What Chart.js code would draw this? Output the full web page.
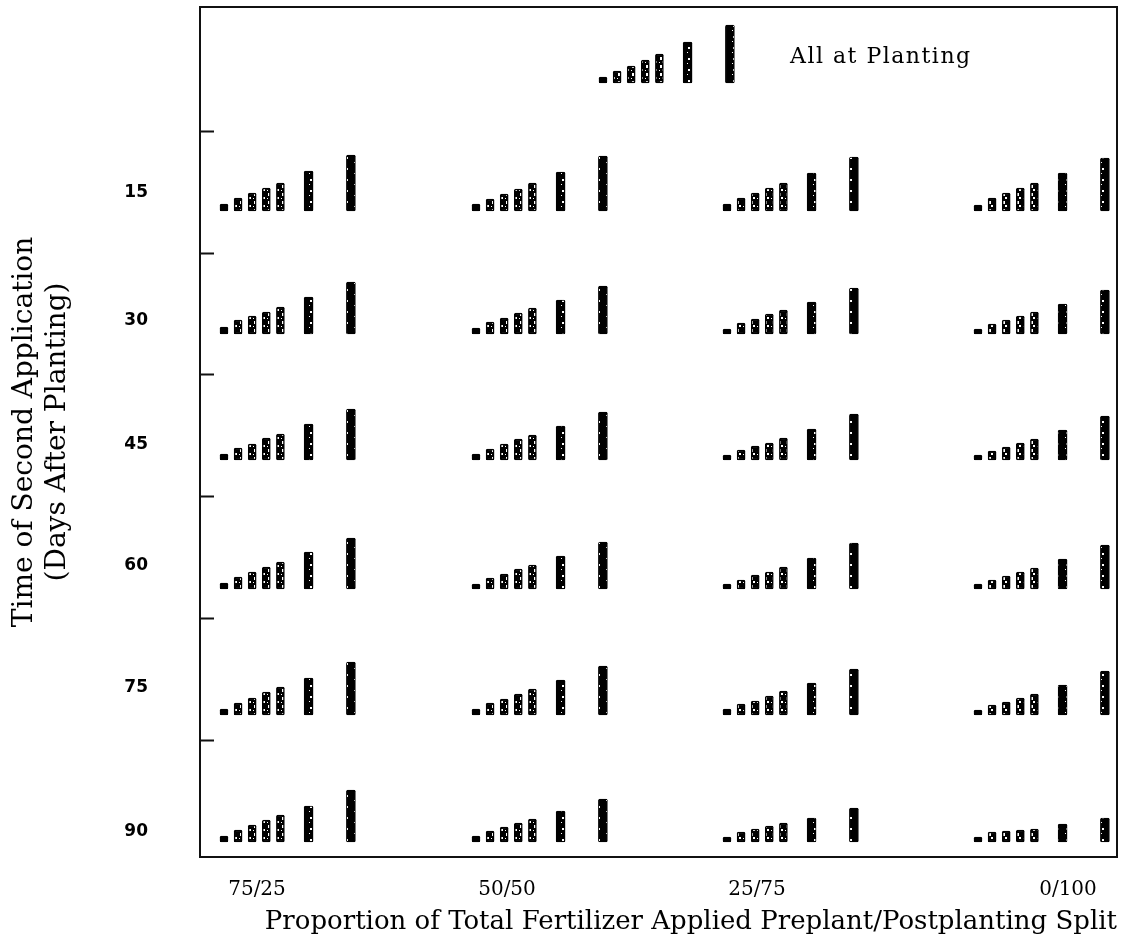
<!DOCTYPE html>
<html lang="en">
<head>
    <meta charset="UTF-8">
    <title>Time of Second Application</title>
    <script src="https://cdn.jsdelivr.net/npm/chart.js"></script>
    <style>
        body { margin: 0; background: #fff; }
    </style>
</head>
<body>
    <canvas id="myChart" width="1139" height="945"></canvas>

    <script>
        // categories
        const splits = ["75/25", "50/50", "25/75", "0/100"];
        const days = ["15", "30", "45", "60", "75", "90"];

        // bar heights, 7 samplings per cluster, one list per split
        const allAtPlanting = [6, 12, 17, 23, 29, 41, 58];
        const day15 = [[7, 13, 18, 23, 28, 40, 56], [7, 12, 17, 22, 28, 39, 55], [7, 13, 18, 23, 28, 38, 54], [6, 13, 18, 23, 28, 38, 53]];
        const day30 = [[7, 14, 18, 22, 27, 37, 52], [6, 12, 16, 21, 26, 34, 48], [5, 11, 15, 20, 24, 32, 46], [5, 10, 14, 18, 22, 30, 44]];
        const day45 = [[6, 12, 16, 22, 26, 36, 51], [6, 11, 16, 21, 25, 34, 48], [5, 10, 14, 17, 22, 31, 46], [5, 9, 13, 17, 21, 30, 44]];
        const day60 = [[6, 12, 17, 22, 27, 37, 51], [5, 11, 15, 20, 24, 33, 47], [5, 9, 14, 17, 22, 31, 46], [5, 9, 13, 17, 21, 30, 44]];
        const day75 = [[6, 12, 17, 23, 28, 37, 53], [6, 12, 16, 21, 26, 35, 49], [6, 11, 14, 19, 24, 32, 46], [5, 10, 13, 17, 21, 30, 44]];
        const day90 = [[6, 12, 17, 22, 27, 36, 52], [6, 11, 15, 19, 23, 31, 43], [5, 10, 13, 16, 19, 24, 34], [5, 10, 11, 12, 13, 18, 24]];
        const rows = [day15, day30, day45, day60, day75, day90];

        // layout (chart units, 1 unit ~ 1 px)
        const colStart = [24, 276, 527, 778];
        const topStart = 403;
        const sampleStep = [0, 1, 2, 3, 4, 6, 9];
        const stepWidth = 14.1;
        const rowBase = [646, 523, 397, 268, 142, 15];
        const topBase = 774;
        const rowEdges = [726, 604, 483, 361, 239, 117];
        const dayLabelY = [664, 536, 412, 291, 169, 25];
        const splitLabelX = [57, 307, 557, 868];

        function makePattern(w, h, bg, fg, spots) {
            const c = document.createElement("canvas");
            c.width = w;
            c.height = h;
            const g = c.getContext("2d");
            g.fillStyle = bg;
            g.fillRect(0, 0, w, h);
            g.fillStyle = fg;
            spots.forEach(s => g.fillRect(s[0], s[1], s[2], s[3]));
            return g.createPattern(c, "repeat");
        }

        const darkFill = makePattern(9, 11, "#000", "#fff", [[4, 3, 2, 2], [3, 8, 1, 1]]);
        const midFill = makePattern(7, 8, "#000", "#fff", [[2, 1, 2, 3], [4, 5, 2, 2], [1, 6, 1, 1]]);

        const datasets = sampleStep.map((step, k) => {
            const data = [];
            data.push({ x: topStart + step * stepWidth, y: [topBase, topBase + allAtPlanting[k]] });
            rows.forEach((row, r) => {
                row.forEach((vals, c) => {
                    data.push({ x: colStart[c] + step * stepWidth, y: [rowBase[r], rowBase[r] + vals[k]] });
                });
            });
            const mid = k >= 1 && k <= 4;
            return {
                label: "sample " + (k + 1),
                data: data,
                grouped: false,
                backgroundColor: k === 0 ? "#000" : (mid ? midFill : darkFill),
                borderColor: "#000",
                borderWidth: mid ? 1.5 : 1,
                borderSkipped: false,
                borderRadius: 1.5,
                barThickness: k >= 5 ? 9 : 8
            };
        });

        const framePlugin = {
            id: "frame",
            afterDraw(chart) {
                const ctx = chart.ctx;
                const a = chart.chartArea;
                const y = chart.scales.y;
                const x = chart.scales.x;
                ctx.save();
                ctx.strokeStyle = "#111";
                ctx.lineWidth = 2;
                ctx.strokeRect(a.left, a.top, a.right - a.left, a.bottom - a.top);
                ctx.beginPath();
                rowEdges.forEach(v => {
                    const py = Math.round(y.getPixelForValue(v)) + 0.5;
                    ctx.moveTo(a.left, py);
                    ctx.lineTo(a.left + 14, py);
                });
                ctx.stroke();
                ctx.fillStyle = "#000";
                ctx.font = "22px 'DejaVu Serif'";
                ctx.letterSpacing = "1.5px";
                ctx.textBaseline = "middle";
                ctx.fillText("All at Planting", x.getPixelForValue(590), y.getPixelForValue(800));
                ctx.restore();
            }
        };

        new Chart(document.getElementById("myChart"), {
            type: "bar",
            data: { datasets: datasets },
            options: {
                responsive: false,
                animation: false,
                layout: { padding: { top: 7, right: 22, left: 0, bottom: 0 } },
                plugins: {
                    legend: { display: false },
                    tooltip: { enabled: false }
                },
                scales: {
                    x: {
                        type: "linear",
                        offset: false,
                        min: 0,
                        max: 917,
                        grid: { display: false },
                        border: { display: false },
                        afterBuildTicks: s => { s.ticks = splitLabelX.map(v => ({ value: v })); },
                        afterFit: s => { s.height = 88; s.paddingLeft = 0; s.paddingRight = 0; },
                        ticks: {
                            autoSkip: false,
                            maxRotation: 0,
                            padding: 13,
                            color: "#000",
                            font: { family: "'DejaVu Serif'", size: 20 },
                            callback: (v, i) => splits[i]
                        },
                        title: {
                            display: true,
                            text: "Proportion of Total Fertilizer Applied Preplant/Postplanting Split",
                            align: "end",
                            color: "#000",
                            font: { family: "'DejaVu Serif'", size: 26, lineHeight: 1.2 },
                            padding: { top: 0, bottom: 7 }
                        }
                    },
                    y: {
                        type: "linear",
                        min: 0,
                        max: 850,
                        grid: { display: false },
                        border: { display: false },
                        afterBuildTicks: s => { s.ticks = dayLabelY.map(v => ({ value: v })); },
                        afterFit: s => { s.width = 200; s.paddingTop = 0; s.paddingBottom = 0; },
                        ticks: {
                            autoSkip: false,
                            padding: 44,
                            color: "#000",
                            font: { family: "'DejaVu Sans'", size: 17, weight: "bold" },
                            callback: (v, i) => days[i]
                        },
                        title: {
                            display: true,
                            text: ["Time of Second Application", "(Days After Planting)"],
                            color: "#000",
                            font: { family: "'DejaVu Serif'", size: 28, lineHeight: 1.15 },
                            padding: { top: 9, bottom: 0 }
                        }
                    }
                }
            },
            plugins: [framePlugin]
        });
    </script>
</body>
</html>
